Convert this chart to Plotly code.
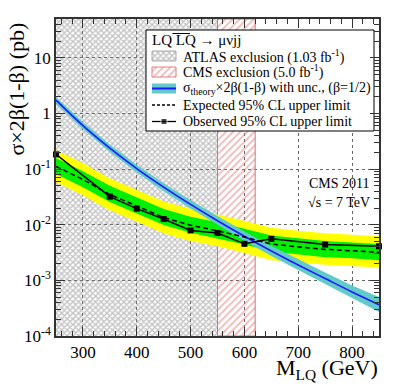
import plotly.graph_objects as go

# ---------------- data ----------------
mass = [250, 300, 350, 400, 450, 500, 550, 600, 650, 700, 750, 800, 850]
theory = [1.735, 0.605, 0.2385, 0.1025, 0.0475, 0.0232, 0.0118, 0.0062, 0.00338, 0.00189, 0.00108, 0.00062, 0.000366]
theory_up = [2.0, 0.70, 0.278, 0.120, 0.0560, 0.0277, 0.0143, 0.0076, 0.00420, 0.00238, 0.00139, 0.00081, 0.00050]
theory_dn = [1.50, 0.52, 0.204, 0.087, 0.0402, 0.0195, 0.0098, 0.0051, 0.00275, 0.00151, 0.00085, 0.00048, 0.00027]

expected = [0.112, 0.065, 0.035, 0.022, 0.0135, 0.0098, 0.0078, 0.0060, 0.0045, 0.0040, 0.0036, 0.0034, 0.0032]
exp_p1 = [0.159, 0.092, 0.050, 0.031, 0.0192, 0.0139, 0.0111, 0.0085, 0.0064, 0.0057, 0.0051, 0.0048, 0.0045]
exp_p2 = [0.218, 0.127, 0.068, 0.043, 0.0263, 0.0191, 0.0152, 0.0117, 0.0088, 0.0078, 0.0070, 0.0066, 0.0062]
exp_m1 = [0.082, 0.047, 0.0256, 0.016, 0.0099, 0.0072, 0.0057, 0.0044, 0.0033, 0.0029, 0.0026, 0.0025, 0.0023]
exp_m2 = [0.058, 0.034, 0.0182, 0.0114, 0.0070, 0.0051, 0.0041, 0.0031, 0.0023, 0.0021, 0.0019, 0.0018, 0.0017]

obs_mass = [250, 350, 400, 450, 500, 550, 600, 650, 750, 850]
observed = [0.184, 0.032, 0.0195, 0.0127, 0.0079, 0.0071, 0.00454, 0.00558, 0.0044, 0.0041]

atlas_excl = [250, 550]
cms_excl = [550, 620]
y_lo, y_hi = 1e-4, 50

ytick_vals = [1e-4, 1e-3, 1e-2, 1e-1, 1, 10]
ytick_text = ["10<sup>-4</sup>", "10<sup>-3</sup>", "10<sup>-2</sup>", "10<sup>-1</sup>", "1", "10"]
xtick_vals = [300, 400, 500, 600, 700, 800]

legend_labels = [
    "ATLAS exclusion (1.03 fb<sup>-1</sup>)",
    "CMS exclusion (5.0 fb<sup>-1</sup>)",
    "σ<sub>theory</sub>×2β(1-β) with unc., (β=1/2)",
    "Expected 95% CL upper limit",
    "Observed 95% CL upper limit",
]

# ---------------- layout geometry (pixels) ----------------
W, H = 399, 387
L, R, T, B = 56, 379, 19, 336
FONT = "Liberation Serif"

def px(x):
    return (x - L) / (R - L)

def py(y):
    return (B - y) / (B - T)

ATLAS_PAT = dict(shape="x", fgcolor="#888888", bgcolor="rgba(0,0,0,0)", size=4, solidity=0.6)
CMS_PAT = dict(shape="/", fgcolor="#e57373", bgcolor="rgba(0,0,0,0)", size=5, solidity=0.35)

fig = go.Figure()

# exclusion hatches
fig.add_trace(go.Scatter(
    x=[atlas_excl[0], atlas_excl[1], atlas_excl[1], atlas_excl[0], atlas_excl[0]],
    y=[y_lo, y_lo, y_hi, y_hi, y_lo], mode="lines", line=dict(width=0),
    fill="toself", fillcolor="rgba(0,0,0,0)", fillpattern=ATLAS_PAT,
    showlegend=False, hoverinfo="skip"))
fig.add_trace(go.Scatter(
    x=[cms_excl[0], cms_excl[1], cms_excl[1], cms_excl[0], cms_excl[0]],
    y=[y_lo, y_lo, y_hi, y_hi, y_lo], mode="lines", line=dict(color="#e07070", width=1),
    fill="toself", fillcolor="rgba(0,0,0,0)", fillpattern=CMS_PAT,
    showlegend=False, hoverinfo="skip"))

# expected bands
fig.add_trace(go.Scatter(x=mass + mass[::-1], y=exp_p2 + exp_m2[::-1], fill="toself",
                         fillcolor="#ffff00", line=dict(width=0), mode="lines",
                         showlegend=False, hoverinfo="skip"))
fig.add_trace(go.Scatter(x=mass + mass[::-1], y=exp_p1 + exp_m1[::-1], fill="toself",
                         fillcolor="#00ee00", line=dict(width=0), mode="lines",
                         showlegend=False, hoverinfo="skip"))

# theory band
fig.add_trace(go.Scatter(x=mass + mass[::-1], y=theory_up + theory_dn[::-1], fill="toself",
                         fillcolor="#62caca", line=dict(width=0), mode="lines",
                         showlegend=False, hoverinfo="skip"))
fig.add_trace(go.Scatter(x=mass, y=theory, mode="lines", line=dict(color="#1a1aff", width=1.6),
                         line_shape="spline", showlegend=False, hoverinfo="skip"))

# expected / observed
fig.add_trace(go.Scatter(x=mass, y=expected, mode="lines",
                         line=dict(color="black", width=1.5, dash="5px,3px"),
                         showlegend=False, hoverinfo="skip"))
fig.add_trace(go.Scatter(x=obs_mass, y=observed, mode="lines+markers",
                         line=dict(color="black", width=1.5),
                         marker=dict(symbol="square", size=6, color="black"),
                         showlegend=False, hoverinfo="skip", cliponaxis=False))

# ---------------- manual legend on pixel overlay axes ----------------
lx0, lx1, ly0, ly1 = 146, 374, 30, 131
fig.add_trace(go.Scatter(x=[lx0, lx1, lx1, lx0, lx0], y=[ly0, ly0, ly1, ly1, ly0],
                         xaxis="x2", yaxis="y2", mode="lines", fill="toself",
                         fillcolor="white", line=dict(color="black", width=1),
                         showlegend=False, hoverinfo="skip"))
sx0, sx1 = 152, 176
rows = [56, 72, 88.5, 105, 121.5]
r = rows[0]
fig.add_trace(go.Scatter(x=[sx0, sx1, sx1, sx0, sx0], y=[r - 5, r - 5, r + 5, r + 5, r - 5],
                         xaxis="x2", yaxis="y2", mode="lines", fill="toself",
                         fillcolor="rgba(0,0,0,0)", line=dict(color="#aaaaaa", width=1),
                         fillpattern=ATLAS_PAT, showlegend=False, hoverinfo="skip"))
r = rows[1]
fig.add_trace(go.Scatter(x=[sx0, sx1, sx1, sx0, sx0], y=[r - 5, r - 5, r + 5, r + 5, r - 5],
                         xaxis="x2", yaxis="y2", mode="lines", fill="toself",
                         fillcolor="rgba(0,0,0,0)", line=dict(color="#e08080", width=1),
                         fillpattern=CMS_PAT, showlegend=False, hoverinfo="skip"))
r = rows[2]
fig.add_trace(go.Scatter(x=[sx0, sx1, sx1, sx0, sx0], y=[r - 5, r - 5, r + 5, r + 5, r - 5],
                         xaxis="x2", yaxis="y2", mode="lines", fill="toself",
                         fillcolor="#62caca", line=dict(width=0),
                         showlegend=False, hoverinfo="skip"))
fig.add_trace(go.Scatter(x=[sx0, sx1], y=[r, r], xaxis="x2", yaxis="y2", mode="lines",
                         line=dict(color="#1a1aff", width=2), showlegend=False, hoverinfo="skip"))
r = rows[3]
fig.add_trace(go.Scatter(x=[sx0, sx1], y=[r, r], xaxis="x2", yaxis="y2", mode="lines",
                         line=dict(color="black", width=1.3, dash="3px,2px"), showlegend=False, hoverinfo="skip"))
r = rows[4]
fig.add_trace(go.Scatter(x=[sx0, (sx0 + sx1) / 2, sx1], y=[r, r, r], xaxis="x2", yaxis="y2",
                         mode="lines+markers", line=dict(color="black", width=1.3),
                         marker=dict(symbol="square", size=[0, 6, 0], color="black"),
                         showlegend=False, hoverinfo="skip"))

shapes = [dict(type="line", xref="x2", yref="y2", x0=172.5, x1=190, y0=33.5, y1=33.5,
               line=dict(color="black", width=1))]

annotations = []
annotations.append(dict(x=px(150), y=py(40), xref="paper", yref="paper",
                        text="LQ LQ → μνjj", showarrow=False, xanchor="left", yanchor="middle",
                        font=dict(family=FONT, size=15, color="black")))
for lab, r in zip(legend_labels, rows):
    annotations.append(dict(x=px(181), y=py(r), xref="paper", yref="paper", text=lab,
                            showarrow=False, xanchor="left", yanchor="middle",
                            font=dict(family=FONT, size=14, color="black")))
annotations.append(dict(x=px(372), y=py(183), xref="paper", yref="paper", text="CMS 2011",
                        showarrow=False, xanchor="right", yanchor="middle",
                        font=dict(family=FONT, size=14, color="black")))
annotations.append(dict(x=px(372), y=py(203), xref="paper", yref="paper", text="√s = 7 TeV",
                        showarrow=False, xanchor="right", yanchor="middle",
                        font=dict(family=FONT, size=14, color="black")))
annotations.append(dict(x=px(380), y=py(369), xref="paper", yref="paper", text="M<sub>LQ</sub> (GeV)",
                        showarrow=False, xanchor="right", yanchor="middle",
                        font=dict(family=FONT, size=22, color="black")))
annotations.append(dict(x=px(16), y=py(21), xref="paper", yref="paper", text="σ×2β(1-β) (pb)",
                        textangle=-90, showarrow=False, xanchor="center", yanchor="top",
                        font=dict(family=FONT, size=22, color="black")))

axis_common = dict(showline=True, linecolor="#333", linewidth=1.5, mirror="allticks",
                   ticks="inside", tickcolor="#333", ticklen=9, tickwidth=1,
                   showgrid=True, gridcolor="#666", griddash="dot", gridwidth=1,
                   zeroline=False, tickfont=dict(family=FONT, size=17, color="black"))

fig.update_layout(
    width=W, height=H, margin=dict(l=L, r=W - R, t=T, b=H - B),
    font=dict(family=FONT, color="black"),
    paper_bgcolor="white", plot_bgcolor="white", showlegend=False,
    xaxis=dict(range=[250, 850], tickmode="array", tickvals=xtick_vals,
               minor=dict(ticks="inside", ticklen=5, tickcolor="#333", dtick=20, tick0=0, showgrid=False),
               **axis_common),
    yaxis=dict(type="log", range=[-4, 1.699], tickmode="array", tickvals=ytick_vals, ticktext=ytick_text,
               minor=dict(ticks="inside", ticklen=5, tickcolor="#333", dtick="D1", showgrid=False),
               **axis_common),
    xaxis2=dict(range=[L, R], overlaying="x", visible=False, fixedrange=True),
    yaxis2=dict(range=[B, T], overlaying="y", visible=False, fixedrange=True),
    shapes=shapes,
    annotations=annotations,
)

fig.write_html("out.html", config={"displayModeBar": False},
               post_script="document.body.style.margin='0';")
